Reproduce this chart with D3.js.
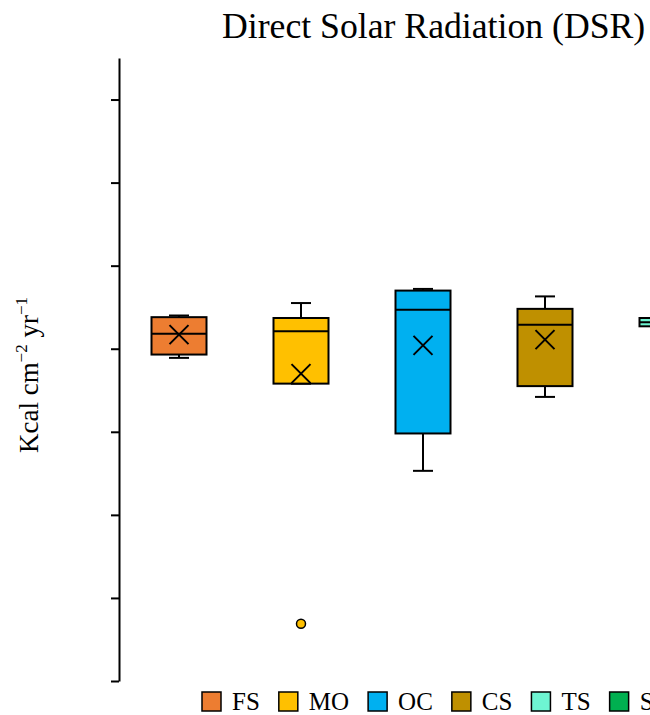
<!DOCTYPE html>
<html>
<head>
<meta charset="utf-8">
<script src="https://cdn.jsdelivr.net/npm/d3@7"></script>
<style>
  body { margin: 0; background: #fff; }
  svg { display: block; font-family: "Liberation Serif", "Times New Roman", serif; }
</style>
</head>
<body>
<svg id="chart" width="650" height="715"></svg>
<script>
// categories and colours (legend shows all, only first five boxes fit in view)
const categories = ["FS", "MO", "OC", "CS", "TS", "SS"];
const colors = ["#ED7D31", "#FFC000", "#00B0F0", "#BF9000", "#6EF5D2", "#00B050"];

// box stats (Kcal cm-2 yr-1)
const boxCats = ["FS", "MO", "OC", "CS", "TS"];
const whiskerLow = [38.9, 35.8, 25.3, 34.2, 42.6];
const q1 = [39.3, 35.8, 29.8, 35.5, 42.7];
const median = [41.8, 42.1, 44.7, 42.9, 43.2];
const q3 = [43.8, 43.7, 47.0, 44.8, 43.7];
const whiskerHigh = [44.0, 45.5, 47.2, 46.3, 43.8];
const means = [41.7, 37.0, 40.4, 41.1, 43.2];
const outliers = [[], [6.9], [], [], []];

const yTicks = [0, 10, 20, 30, 40, 50, 60, 70];

const svg = d3.select("#chart");

const y = d3.scaleLinear().domain([0, 75]).range([681, 58]);
const x = d3.scalePoint().domain(categories).range([118, 850]).padding(0.5);
const boxW = 55, capW = 20;

// axis, ticks only, no labels
const yAxis = svg.append("g")
  .attr("transform", "translate(119,0)")
  .call(d3.axisLeft(y).tickValues(yTicks).tickFormat("").tickSize(8).tickSizeOuter(0));
yAxis.select(".domain").attr("stroke", "#000").attr("stroke-width", 2);
yAxis.selectAll(".tick line").attr("stroke", "#000").attr("stroke-width", 2);

// boxes
boxCats.forEach((c, i) => {
  const cx = x(c);
  const col = colors[categories.indexOf(c)];
  const g = svg.append("g");

  // whiskers
  g.append("line").attr("x1", cx).attr("x2", cx)
    .attr("y1", y(q3[i])).attr("y2", y(whiskerHigh[i]))
    .attr("stroke", "#000").attr("stroke-width", 2);
  g.append("line").attr("x1", cx).attr("x2", cx)
    .attr("y1", y(q1[i])).attr("y2", y(whiskerLow[i]))
    .attr("stroke", "#000").attr("stroke-width", 2);
  [whiskerHigh[i], whiskerLow[i]].forEach(v => {
    g.append("line").attr("x1", cx - capW / 2).attr("x2", cx + capW / 2)
      .attr("y1", y(v)).attr("y2", y(v))
      .attr("stroke", "#000").attr("stroke-width", 2);
  });

  g.append("rect")
    .attr("x", cx - boxW / 2).attr("width", boxW)
    .attr("y", y(q3[i])).attr("height", y(q1[i]) - y(q3[i]))
    .attr("fill", col).attr("stroke", "#000").attr("stroke-width", 2);

  g.append("line").attr("x1", cx - boxW / 2).attr("x2", cx + boxW / 2)
    .attr("y1", y(median[i])).attr("y2", y(median[i]))
    .attr("stroke", "#000").attr("stroke-width", 2);

  // mean marker
  const my = y(means[i]), s = 9.5;
  g.append("path")
    .attr("d", `M${cx - s},${my - s}L${cx + s},${my + s}M${cx - s},${my + s}L${cx + s},${my - s}`)
    .attr("stroke", "#000").attr("stroke-width", 2).attr("fill", "none");

  outliers[i].forEach(v => {
    g.append("circle").attr("cx", cx).attr("cy", y(v)).attr("r", 4.5)
      .attr("fill", col).attr("stroke", "#000").attr("stroke-width", 1.5);
  });
});

// title
svg.append("text")
  .attr("x", 222).attr("y", 38)
  .attr("font-size", 35.7)
  .attr("fill", "#000")
  .text("Direct Solar Radiation (DSR)");

// y label with superscripts
const yl = svg.append("text")
  .attr("transform", "translate(38,375) rotate(-90)")
  .attr("text-anchor", "middle")
  .attr("font-size", 27)
  .attr("fill", "#000");
yl.append("tspan").text("Kcal cm");
yl.append("tspan").attr("font-size", 17).attr("dy", -11).text("\u22122");
yl.append("tspan").attr("dy", 11).text(" yr");
yl.append("tspan").attr("font-size", 17).attr("dy", -11).text("\u22121");

// legend
let lx = 202;
categories.forEach((c, i) => {
  svg.append("rect")
    .attr("x", lx).attr("y", 692).attr("width", 19).attr("height", 19)
    .attr("fill", colors[i]).attr("stroke", "#000").attr("stroke-width", 1.5);
  const t = svg.append("text")
    .attr("x", lx + 30).attr("y", 710)
    .attr("font-size", 25).attr("fill", "#000")
    .text(c);
  lx += 30 + t.node().getComputedTextLength() + 19;
});
</script>
</body>
</html>
